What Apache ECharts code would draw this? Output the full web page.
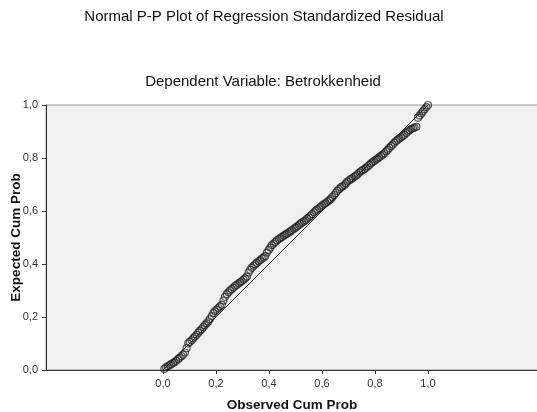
<!DOCTYPE html>
<html>
<head>
<meta charset="utf-8">
<script src="https://cdn.jsdelivr.net/npm/echarts@6/dist/echarts.min.js"></script>
<style>
  html, body { margin: 0; padding: 0; background: #fff; }
  #chart { width: 537px; height: 412px; }
</style>
</head>
<body>
<div id="chart"></div>
<script>
const chartTitle = 'Normal P-P Plot of Regression Standardized Residual'
const subTitle = 'Dependent Variable: Betrokkenheid'
const xName = 'Observed Cum Prob'
const yName = 'Expected Cum Prob'
const tickValues = [0, 0.2, 0.4, 0.6, 0.8, 1.0]

// observed cumulative probability (x) and expected cumulative probability (y)
const obsCumProb = [
  0.005, 0.012, 0.018, 0.025, 0.031, 0.038, 0.044, 0.050, 0.057, 0.063,
  0.070, 0.076, 0.083, 0.089, 0.095, 0.101, 0.108, 0.114, 0.120, 0.127,
  0.133, 0.139, 0.146, 0.152, 0.158, 0.165, 0.171, 0.177, 0.184, 0.190,
  0.196, 0.203, 0.209, 0.215, 0.222, 0.228, 0.234, 0.241, 0.247, 0.253,
  0.259, 0.266, 0.272, 0.278, 0.285, 0.291, 0.297, 0.304, 0.310, 0.316,
  0.323, 0.329, 0.335, 0.342, 0.348, 0.354, 0.361, 0.367, 0.373, 0.380,
  0.386, 0.392, 0.399, 0.405, 0.411, 0.418, 0.424, 0.430, 0.437, 0.443,
  0.449, 0.456, 0.462, 0.468, 0.475, 0.481, 0.487, 0.494, 0.500, 0.506,
  0.513, 0.519, 0.525, 0.532, 0.538, 0.544, 0.551, 0.557, 0.563, 0.570,
  0.576, 0.582, 0.589, 0.595, 0.601, 0.608, 0.614, 0.620, 0.627, 0.633,
  0.639, 0.646, 0.652, 0.658, 0.665, 0.671, 0.677, 0.684, 0.690, 0.696,
  0.703, 0.709, 0.715, 0.722, 0.728, 0.734, 0.741, 0.747, 0.753, 0.760,
  0.766, 0.772, 0.779, 0.785, 0.791, 0.797, 0.804, 0.810, 0.816, 0.823,
  0.829, 0.835, 0.842, 0.848, 0.854, 0.861, 0.867, 0.873, 0.880, 0.886,
  0.892, 0.899, 0.905, 0.911, 0.918, 0.924, 0.930, 0.937, 0.943, 0.949,
  0.956, 0.962, 0.968, 0.975, 0.981, 0.987, 0.994, 1.000
]
const expCumProb = [
  0.004, 0.010, 0.014, 0.018, 0.022, 0.026, 0.030, 0.035, 0.041, 0.046,
  0.052, 0.058, 0.066, 0.082, 0.100, 0.106, 0.112, 0.119, 0.126, 0.133,
  0.141, 0.148, 0.154, 0.162, 0.169, 0.176, 0.183, 0.192, 0.203, 0.215,
  0.222, 0.228, 0.234, 0.240, 0.246, 0.262, 0.276, 0.286, 0.293, 0.300,
  0.305, 0.311, 0.317, 0.321, 0.326, 0.331, 0.335, 0.341, 0.346, 0.352,
  0.368, 0.378, 0.386, 0.393, 0.399, 0.404, 0.410, 0.415, 0.420, 0.425,
  0.430, 0.443, 0.453, 0.462, 0.471, 0.477, 0.483, 0.489, 0.494, 0.498,
  0.502, 0.507, 0.511, 0.515, 0.519, 0.523, 0.528, 0.533, 0.537, 0.542,
  0.547, 0.552, 0.557, 0.561, 0.565, 0.571, 0.576, 0.582, 0.588, 0.595,
  0.601, 0.606, 0.611, 0.616, 0.621, 0.626, 0.630, 0.635, 0.640, 0.645,
  0.652, 0.660, 0.668, 0.676, 0.683, 0.689, 0.693, 0.697, 0.704, 0.711,
  0.716, 0.720, 0.724, 0.729, 0.733, 0.738, 0.745, 0.750, 0.754, 0.758,
  0.763, 0.768, 0.774, 0.780, 0.785, 0.789, 0.794, 0.798, 0.803, 0.808,
  0.813, 0.818, 0.825, 0.831, 0.838, 0.845, 0.851, 0.858, 0.864, 0.869,
  0.874, 0.878, 0.883, 0.888, 0.894, 0.900, 0.905, 0.909, 0.912, 0.915,
  0.918, 0.952, 0.960, 0.968, 0.976, 0.984, 0.992, 1.000
]
const refLine = [[0, 0], [1, 1]]

const chart = echarts.init(document.getElementById('chart'), null, { renderer: 'canvas' })
const font = '"Liberation Sans", Arial, sans-serif'
const fmt = v => v.toFixed(1).replace('.', ',')

const points = obsCumProb.map((x, i) => [x, expCumProb[i]])

const option = {
  animation: false,
  backgroundColor: '#fff',
  textStyle: { fontFamily: font },
  graphic: [
    {
      type: 'text', x: 264, y: 9,
      style: { text: chartTitle, font: '15px ' + font, fill: '#111', textAlign: 'center' }
    },
    {
      type: 'text', x: 263, y: 74,
      style: { text: subTitle, font: '15px ' + font, fill: '#111', textAlign: 'center' }
    }
  ],
  grid: {
    left: 46, right: -1, top: 105, bottom: 42,
    containLabel: false, outerBoundsMode: 'none',
    show: true, backgroundColor: '#f0f0f0',
    borderColor: '#9a9a9a', borderWidth: 1
  },
  xAxis: {
    type: 'value', min: -0.4415, max: 1.415,
    name: xName, nameLocation: 'middle', nameGap: 28, nameMoveOverlap: false,
    nameTextStyle: { fontWeight: 'bold', fontSize: 13.5, color: '#111', fontFamily: font },
    axisLine: { show: true, onZero: false, lineStyle: { color: '#333', width: 1 } },
    axisTick: { show: true, length: 4, customValues: tickValues, lineStyle: { color: '#333' } },
    axisLabel: { customValues: tickValues, formatter: fmt, fontSize: 11, color: '#333', margin: 8 },
    splitLine: { show: false }
  },
  yAxis: {
    type: 'value', min: 0, max: 1, interval: 0.2,
    name: yName, nameLocation: 'middle', nameGap: 23, nameMoveOverlap: false,
    nameTextStyle: { fontWeight: 'bold', fontSize: 13.5, color: '#111', fontFamily: font },
    axisLine: { show: true, onZero: false, lineStyle: { color: '#333', width: 1 } },
    axisTick: { show: true, length: 4, lineStyle: { color: '#333' } },
    axisLabel: { formatter: fmt, fontSize: 11, color: '#333', margin: 8 },
    splitLine: { show: false }
  },
  series: [
    {
      type: 'line', data: refLine, symbol: 'none', z: 1,
      lineStyle: { color: '#333', width: 1 }
    },
    {
      type: 'scatter', data: points, symbol: 'circle', symbolSize: 7, z: 2,
      itemStyle: { color: 'rgba(0,0,0,0)', borderColor: 'rgba(25,25,25,0.9)', borderWidth: 1.2 }
    }
  ]
}
chart.setOption(option)
</script>
</body>
</html>
